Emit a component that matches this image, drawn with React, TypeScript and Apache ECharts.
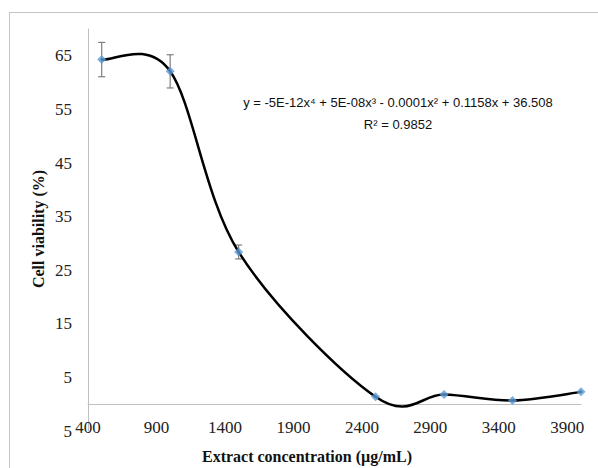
import React, { useEffect, useRef } from "react";
import * as echarts from "echarts";

const concentrations = [500, 1000, 1500, 2500, 3000, 3500, 4000];
const viability = [64.3, 62.1, 28.4, 1.4, 1.8, 0.7, 2.3];
const errors = [3.2, 3.1, 1.3, 0, 0, 0, 0];
const equationText = "y = -5E-12x⁴ + 5E-08x³ - 0.0001x² + 0.1158x + 36.508";
const r2Text = "R² = 0.9852";
const xName = "Extract concentration (µg/mL)";
const yName = "Cell viability (%)";

export default function App() {
  const ref = useRef<HTMLDivElement>(null);
  useEffect(() => {
    if (!ref.current) return;
    const chart = echarts.init(ref.current, undefined, { renderer: "svg" });
    const lineData = concentrations.map((x, i) => [x, viability[i]]);
    const errData = concentrations.map((x, i) => [x, viability[i] - errors[i], viability[i] + errors[i]]);
    const serif = "Liberation Serif, Times New Roman, serif";
    const sans = "Liberation Sans, Arial, sans-serif";
    chart.setOption({
      animation: false,
      backgroundColor: "#ffffff",
      grid: { left: 88, right: 17, top: 29, bottom: 37 },
      xAxis: {
        type: "value",
        min: 400,
        max: 4000,
        interval: 500,
        axisLine: { onZero: true, lineStyle: { color: "#bfbfbf", width: 1 } },
        axisTick: { show: false },
        splitLine: { show: false },
        axisLabel: {
          margin: -12,
          color: "#222",
          fontFamily: serif,
          fontSize: 17,
          showMaxLabel: false,
          formatter: (v: number) => (v === 4000 ? "" : String(v)),
        },
      },
      yAxis: {
        type: "value",
        min: -5,
        max: 70,
        interval: 5,
        axisLine: { show: true, onZero: false, lineStyle: { color: "#bfbfbf", width: 1 } },
        axisTick: { show: false },
        splitLine: { show: false },
        axisLabel: {
          margin: 16,
          color: "#222",
          fontFamily: serif,
          fontSize: 17,
          formatter: (v: number) => ((v + 5) % 10 === 0 ? String(Math.abs(v)) : ""),
        },
      },
      graphic: [
        { type: "line", shape: { x1: 9.5, y1: 12, x2: 9.5, y2: 468 }, style: { stroke: "#c4c4c4", lineWidth: 1 } },
        { type: "line", shape: { x1: 9, y1: 12.5, x2: 598, y2: 12.5 }, style: { stroke: "#c4c4c4", lineWidth: 1 } },
        {
          type: "text",
          x: 398,
          y: 102,
          style: { text: equationText, fontFamily: sans, fontSize: 13, fill: "#111", align: "center", verticalAlign: "middle" },
        },
        {
          type: "text",
          x: 398,
          y: 124,
          style: { text: r2Text, fontFamily: sans, fontSize: 13, fill: "#111", align: "center", verticalAlign: "middle" },
        },
        {
          type: "text",
          x: 307,
          y: 456,
          style: { text: xName, fontFamily: serif, fontSize: 16, fontWeight: "bold", fill: "#111", align: "center", verticalAlign: "middle" },
        },
        {
          type: "text",
          x: 38,
          y: 229,
          rotation: Math.PI / 2,
          style: { text: yName, fontFamily: serif, fontSize: 16, fontWeight: "bold", fill: "#111", align: "center", verticalAlign: "middle" },
        },
      ],
      series: [
        {
          type: "custom",
          z: 1,
          data: errData,
          renderItem: (params: any, api: any) => {
            const x = api.value(0);
            const lo = api.coord([x, api.value(1)]);
            const hi = api.coord([x, api.value(2)]);
            if (Math.abs(hi[1] - lo[1]) < 1) return { type: "group", children: [] };
            const w = 3.5;
            const style = { stroke: "#7f7f7f", lineWidth: 1.2 };
            return {
              type: "group",
              children: [
                { type: "line", shape: { x1: lo[0], y1: lo[1], x2: hi[0], y2: hi[1] }, style },
                { type: "line", shape: { x1: hi[0] - w, y1: hi[1], x2: hi[0] + w, y2: hi[1] }, style },
                { type: "line", shape: { x1: lo[0] - w, y1: lo[1], x2: lo[0] + w, y2: lo[1] }, style },
              ],
            };
          },
        },
        {
          // smoothed curve (Excel-like cardinal spline through the data points)
          type: "custom",
          z: 2,
          data: lineData,
          renderItem: (params: any, api: any) => {
            const i = params.dataIndex;
            const n = lineData.length;
            if (i >= n - 1) return { type: "group", children: [] };
            const pt = (k: number) => {
              const kk = Math.max(0, Math.min(n - 1, k));
              return api.coord(lineData[kk]);
            };
            const p0 = pt(i - 1), p1 = pt(i), p2 = pt(i + 1), p3 = pt(i + 2);
            return {
              type: "bezierCurve",
              shape: {
                x1: p1[0],
                y1: p1[1],
                cpx1: p1[0] + (p2[0] - p0[0]) / 6,
                cpy1: p1[1] + (p2[1] - p0[1]) / 6,
                cpx2: p2[0] - (p3[0] - p1[0]) / 6,
                cpy2: p2[1] - (p3[1] - p1[1]) / 6,
                x2: p2[0],
                y2: p2[1],
              },
              style: { stroke: "#000000", lineWidth: 2.5, fill: null, lineCap: "round" },
            };
          },
        },
        {
          type: "scatter",
          z: 3,
          data: lineData,
          symbol: "diamond",
          symbolSize: 9,
          itemStyle: { color: "#5b9bd5" },
        },
      ],
    });
    return () => chart.dispose();
  }, []);
  return <div ref={ref} style={{ position: "fixed", left: 0, top: 0, width: 598, height: 468 }} />;
}
